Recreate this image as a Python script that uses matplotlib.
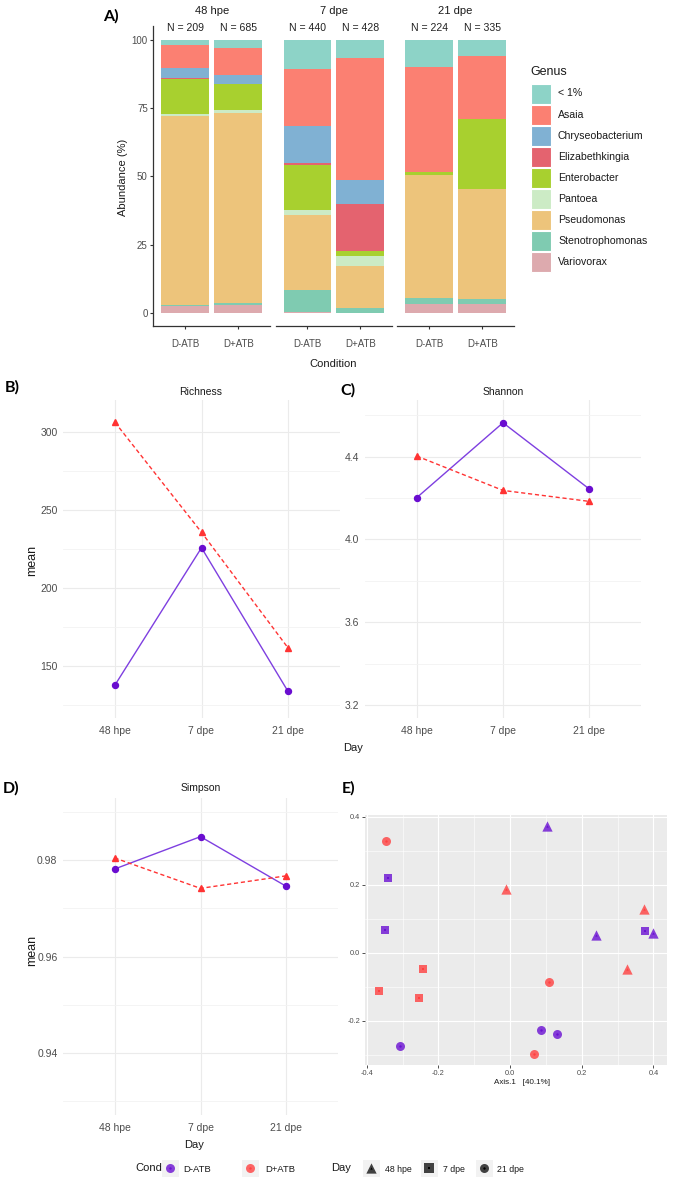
import matplotlib
matplotlib.use("Agg")
import matplotlib.pyplot as plt
import numpy as np
from matplotlib.patches import Rectangle

plt.rcParams['font.family'] = ['Liberation Sans', 'DejaVu Sans']

W, H = 674, 1180

# ---- data ----
days = ["48 hpe", "7 dpe", "21 dpe"]
conds = ["D-ATB", "D+ATB"]
n_reads = [[209, 685], [440, 428], [224, 335]]

genera = ["< 1%", "Asaia", "Chryseobacterium", "Elizabethkingia", "Enterobacter",
          "Pantoea", "Pseudomonas", "Stenotrophomonas", "Variovorax"]
genus_colors = ["#8DD3C7", "#FB8072", "#80B1D3", "#E4636F", "#A8D02F",
                "#CCEBC5", "#EDC47B", "#7FCBB1", "#DDAAAE"]

# abundance (%) per bar: 48hpe D-ATB, 48hpe D+ATB, 7dpe D-ATB, 7dpe D+ATB, 21dpe D-ATB, 21dpe D+ATB
lt1 = [1.8, 3.1, 10.6, 6.5, 9.9, 5.9]
asaia = [8.5, 9.6, 20.9, 44.8, 38.4, 23.2]
chryseo = [3.6, 3.3, 13.7, 8.8, 0.0, 0.0]
elizab = [0.4, 0.0, 0.6, 17.2, 0.0, 0.0]
entero = [13.0, 9.7, 16.3, 1.7, 1.3, 25.4]
pantoea = [0.5, 1.2, 2.1, 3.8, 0.0, 0.0]
pseudo = [69.3, 69.6, 27.2, 15.5, 45.0, 40.2]
steno = [0.5, 0.6, 8.2, 1.6, 2.0, 2.0]
vario = [2.4, 2.9, 0.4, 0.1, 3.4, 3.3]
abund = [lt1, asaia, chryseo, elizab, entero, pantoea, pseudo, steno, vario]

richness_datb = [137.6, 225.6, 133.5]
richness_dpatb = [306.0, 235.5, 161.4]
shannon_datb = [4.202, 4.564, 4.244]
shannon_dpatb = [4.403, 4.237, 4.184]
simpson_datb = [0.9781, 0.9848, 0.9745]
simpson_dpatb = [0.9804, 0.9741, 0.9767]

# PCoA ordination
pc_cond = ["D+ATB", "D-ATB", "D-ATB", "D+ATB", "D+ATB", "D+ATB", "D-ATB", "D-ATB", "D+ATB",
           "D+ATB", "D-ATB", "D-ATB", "D-ATB", "D+ATB", "D+ATB", "D-ATB", "D-ATB", "D+ATB"]
pc_day = ["21 dpe", "7 dpe", "7 dpe", "7 dpe", "7 dpe", "7 dpe", "21 dpe", "48 hpe", "48 hpe",
          "48 hpe", "7 dpe", "48 hpe", "48 hpe", "48 hpe", "21 dpe", "21 dpe", "21 dpe", "21 dpe"]
pc_x = [-0.347, -0.342, -0.348, -0.242, -0.366, -0.253, -0.308, 0.104, -0.012,
        0.375, 0.377, 0.398, 0.239, 0.326, 0.110, 0.087, 0.130, 0.067]
pc_y = [0.329, 0.221, 0.068, -0.047, -0.111, -0.132, -0.275, 0.372, 0.187,
        0.129, 0.064, 0.058, 0.051, -0.047, -0.087, -0.226, -0.239, -0.299]

PURPLE = "#6A0DD0"
PURPLE_LINE = "#7E3FE0"
RED = "#FF3333"
day_marker = {"48 hpe": "^", "7 dpe": "s", "21 dpe": "o"}
cond_color = {"D-ATB": "#6A10D2", "D+ATB": "#FF4040"}
GRAYTXT = "#4D4D4D"

fig = plt.figure(figsize=(W / 100, H / 100), dpi=100)


def px_axes(x0, y0, x1, y1):
    return fig.add_axes([x0 / W, 1 - y1 / H, (x1 - x0) / W, (y1 - y0) / H])


# ---- panel A: stacked bars faceted by day ----
facet_x = [(153.3, 270), (275.7, 392), (397.3, 514)]
for i, (x0, x1) in enumerate(facet_x):
    ax = px_axes(x0, 26.3, x1, 326)
    bottoms = np.zeros(2)
    for g in reversed(range(len(genera))):
        vals = np.array([abund[g][2 * i], abund[g][2 * i + 1]])
        ax.bar([1, 2], vals, width=0.9, bottom=bottoms, color=genus_colors[g], linewidth=0)
        bottoms += vals
    ax.set_xlim(0.4, 2.6)
    ax.set_ylim(-4.76, 105)
    for j in range(2):
        ax.text(j + 1, 104.4, f"N = {n_reads[i][j]}", ha="center", va="center", fontsize=7.6, color="#222222")
    ax.set_facecolor("none")
    for s in ["top", "right"]:
        ax.spines[s].set_visible(False)
    ax.spines["bottom"].set_color("#333333")
    ax.spines["bottom"].set_linewidth(0.9)
    ax.set_xticks([1, 2])
    ax.set_xticklabels(conds)
    ax.tick_params(axis="x", length=2.5, pad=7, labelsize=7, labelcolor=GRAYTXT, color="#333333")
    if i == 0:
        ax.spines["left"].set_color("#333333")
        ax.spines["left"].set_linewidth(0.9)
        ax.set_yticks([0, 25, 50, 75, 100])
        ax.tick_params(axis="y", length=2.5, pad=1.5, labelsize=7, labelcolor=GRAYTXT, color="#333333")
    else:
        ax.spines["left"].set_visible(False)
        ax.set_yticks([])


# ---- panels B, C, D: line plots ----
def line_panel(box, datb, dpatb, ylim, yticks, yminor, fmt):
    ax = px_axes(*box)
    ax.set_xlim(0.4, 3.6)
    ax.set_ylim(ylim)
    ax.set_xticks([1, 2, 3])
    ax.set_xticklabels(days)
    ax.set_yticks(yticks)
    ax.set_yticklabels([fmt.format(v) for v in yticks])
    ax.set_yticks(yminor, minor=True)
    ax.grid(True, which="major", color="#EBEBEB", lw=0.8)
    ax.grid(True, which="minor", axis="y", color="#F3F3F3", lw=0.6)
    ax.set_axisbelow(True)
    for s in ax.spines.values():
        s.set_visible(False)
    ax.tick_params(which="both", length=0, labelsize=7.5, labelcolor=GRAYTXT)
    ax.tick_params(axis="x", pad=6)
    ax.tick_params(axis="y", pad=4)
    x = [1, 2, 3]
    ax.plot(x, datb, color=PURPLE_LINE, lw=1, zorder=3)
    ax.plot(x, datb, "o", color=PURPLE, ms=4.3, zorder=4)
    ax.plot(x, dpatb, "--", color=RED, lw=1, dashes=(3, 2), zorder=3)
    ax.plot(x, dpatb, "^", color=RED, ms=5, zorder=4)
    return ax


line_panel((63, 400, 340, 718), richness_datb, richness_dpatb, (116.5, 320.3),
           [150, 200, 250, 300], [125, 175, 225, 275], "{:.0f}")
line_panel((365, 400, 641, 718), shannon_datb, shannon_dpatb, (3.137, 4.674),
           [3.2, 3.6, 4.0, 4.4], [3.4, 3.8, 4.2, 4.6], "{:.1f}")
line_panel((63, 798, 338, 1115), simpson_datb, simpson_dpatb, (0.9272, 0.9928),
           [0.94, 0.96, 0.98], [0.93, 0.95, 0.97, 0.99], "{:.2f}")

# ---- panel E: PCoA ----
axe = px_axes(365, 815, 667, 1065)
axe.set_facecolor("#EBEBEB")
axe.set_xlim(-0.405, 0.438)
axe.set_ylim(-0.33, 0.405)
axe.set_xticks([-0.4, -0.2, 0.0, 0.2, 0.4])
axe.set_xticks([-0.3, -0.1, 0.1, 0.3], minor=True)
axe.set_yticks([-0.2, 0.0, 0.2, 0.4])
axe.set_yticks([-0.3, -0.1, 0.1, 0.3], minor=True)
axe.set_xticklabels(["-0.4", "-0.2", "0.0", "0.2", "0.4"])
axe.set_yticklabels(["-0.2", "0.0", "0.2", "0.4"])
axe.grid(True, which="major", color="white", lw=0.8)
axe.grid(True, which="minor", color="white", lw=0.4)
axe.set_axisbelow(True)
for s in axe.spines.values():
    s.set_visible(False)
axe.tick_params(which="major", length=2, width=0.6, color="#333333", labelsize=5.3, labelcolor=GRAYTXT, pad=1.5)
axe.tick_params(which="minor", length=0)
for cx, cy, c, d in zip(pc_x, pc_y, pc_cond, pc_day):
    m = day_marker[d]
    size = 55 if m == "^" else (40 if m == "s" else 42)
    axe.scatter(cx, cy, marker=m, s=size, color=cond_color[c], alpha=0.8, linewidths=0, zorder=3)
    axe.scatter(cx, cy, marker=m, s=3, color=cond_color[c], linewidths=0, zorder=4)

# ---- overlay for labels and legends ----
ov = fig.add_axes([0, 0, 1, 1])
ov.set_xlim(0, W)
ov.set_ylim(H, 0)
ov.axis("off")
ov.set_facecolor("none")

bold = dict(fontsize=11.5, fontweight="bold", family=["Lato", "DejaVu Sans"], color="black")
ov.text(103, 16, "A)", ha="left", va="center", **bold)
ov.text(5, 387, "B)", ha="left", va="center", **bold)
ov.text(340, 390, "C)", ha="left", va="center", **bold)
ov.text(3, 788, "D)", ha="left", va="center", **bold)
ov.text(342, 788, "E)", ha="left", va="center", **bold)

for (x0, x1), d in zip(facet_x, days):
    ov.text((x0 + x1) / 2, 11, d, ha="center", va="center", fontsize=8, color="#1A1A1A")
ov.text(123, 177, "Abundance (%)", rotation=90, ha="center", va="center", fontsize=8, color="#1A1A1A")
ov.text(333, 364, "Condition", ha="center", va="center", fontsize=8, color="#1A1A1A")

# genus legend
ov.text(530.5, 72, "Genus", ha="left", va="center", fontsize=9, color="#1A1A1A")
for k, (g, col) in enumerate(zip(genera, genus_colors)):
    yc = 93.5 + 21.1 * k
    ov.add_patch(Rectangle((530.7, yc - 10), 20, 20, facecolor=col, edgecolor="white", lw=0.8))
    ov.text(558, yc, g, ha="left", va="center", fontsize=7.6, color="#1A1A1A")

ov.text(201, 392, "Richness", ha="center", va="center", fontsize=7.5, color="#1A1A1A")
ov.text(503, 392, "Shannon", ha="center", va="center", fontsize=7.5, color="#1A1A1A")
ov.text(201, 788, "Simpson", ha="center", va="center", fontsize=7.5, color="#1A1A1A")
ov.text(32, 560, "mean", rotation=90, ha="center", va="center", fontsize=9, color="#1A1A1A")
ov.text(32, 950, "mean", rotation=90, ha="center", va="center", fontsize=9, color="#1A1A1A")
ov.text(343, 748, "Day", ha="left", va="center", fontsize=8, color="#1A1A1A")
ov.text(194, 1145, "Day", ha="center", va="center", fontsize=8, color="#1A1A1A")
ov.text(522, 1083, "Axis.1   [40.1%]", ha="center", va="center", fontsize=5.8, color="#1A1A1A")

# bottom legend
ly = 1168
ov.text(135, ly, "Cond", ha="left", va="center", fontsize=8, color="#1A1A1A")
for kx, lx, c in [(170, 183, "D-ATB"), (250, 265, "D+ATB")]:
    ov.add_patch(Rectangle((kx - 8.5, ly - 8.5), 17, 17, facecolor="#F2F2F2", edgecolor="none"))
    ov.scatter(kx, ly, marker="o", s=42, color=cond_color[c], alpha=0.8, linewidths=0)
    ov.scatter(kx, ly, marker="o", s=3, color=cond_color[c], linewidths=0)
    ov.text(lx, ly + 1, c, ha="left", va="center", fontsize=6.8, color="#1A1A1A")
ov.text(331, ly, "Day", ha="left", va="center", fontsize=8, color="#1A1A1A")
for kx, lx, d in [(371, 385, "48 hpe"), (429, 443, "7 dpe"), (484, 497, "21 dpe")]:
    ov.add_patch(Rectangle((kx - 8.5, ly - 8.5), 17, 17, facecolor="#F2F2F2", edgecolor="none"))
    m = day_marker[d]
    ov.scatter(kx, ly, marker=m, s=55 if m == "^" else 42, color="#222222", alpha=0.85, linewidths=0)
    ov.scatter(kx, ly, marker=m, s=3, color="black", linewidths=0)
    ov.text(lx, ly + 1, d, ha="left", va="center", fontsize=6.3, color="#1A1A1A")

fig.savefig("out.png", dpi=100)
